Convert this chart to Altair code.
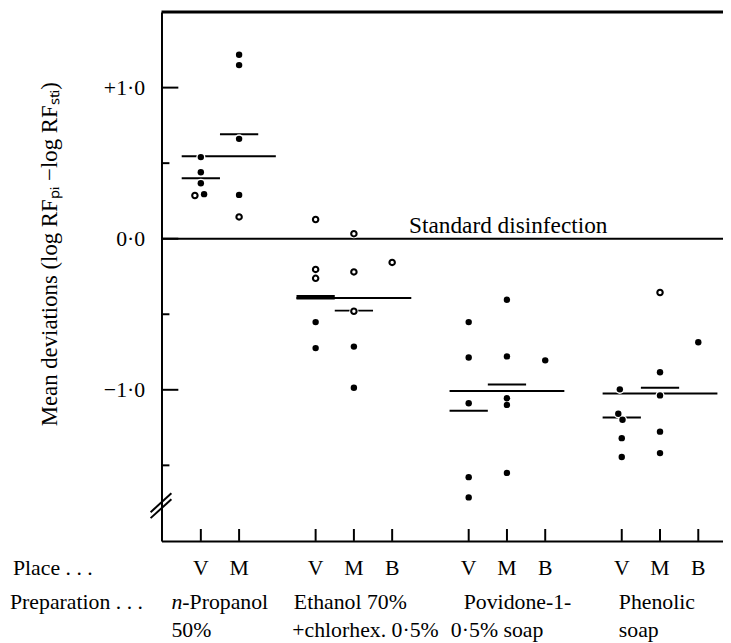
import altair as alt
import pandas as pd

# ---------------- data ----------------
prep_first_line = ["-Propanol", "Ethanol 70%", "Povidone-1-", "Phenolic"]
prep_second_line = ["50%", "+chlorhex. 0·5%", "0·5% soap", "soap"]
prep_places = [["V", "M"], ["V", "M", "B"], ["V", "M", "B"], ["V", "M", "B"]]

# individual results
pt_prep = [0] * 10 + [1] * 11 + [2] * 11 + [3] * 11
pt_place = (["V"] * 5 + ["M"] * 5
            + ["V"] * 5 + ["M"] * 5 + ["B"]
            + ["V"] * 5 + ["M"] * 5 + ["B"]
            + ["V"] * 5 + ["M"] * 5 + ["B"])
pt_value = [0.54, 0.44, 0.367, 0.295, 0.286,
            1.218, 1.149, 0.661, 0.29, 0.144,
            0.127, -0.203, -0.262, -0.552, -0.724,
            0.033, -0.22, -0.48, -0.714, -0.986,
            -0.157,
            -0.552, -0.786, -1.089, -1.578, -1.712,
            -0.404, -0.779, -1.056, -1.10, -1.55,
            -0.805,
            -0.997, -1.159, -1.198, -1.32, -1.445,
            -0.356, -0.884, -1.037, -1.277, -1.419,
            -0.685]
pt_open = [False, False, False, False, True,
           False, False, False, False, True,
           True, True, True, False, False,
           True, True, True, False, False,
           True,
           False, False, False, False, False,
           False, False, False, False, False,
           False,
           False, False, False, False, False,
           True, False, False, False, False,
           False]
# small sideways displacement of some dots, in place-slot units
pt_jitter = [0, 0, 0, 0.085, -0.155,
             0, 0, 0, 0, 0,
             0, 0, 0, 0, 0,
             0, 0, 0, 0, 0,
             0,
             0, 0, 0, 0, 0,
             0, 0, 0, 0, 0,
             0,
             -0.05, -0.09, 0.02, 0, 0,
             0, 0, 0, 0, 0,
             0]

# means per place
pm_prep = [0, 0, 1, 1, 2, 2, 3, 3]
pm_place = ["V", "M", "V", "M", "V", "M", "V", "M"]
pm_value = [0.40, 0.692, -0.388, -0.476, -1.139, -0.965, -1.183, -0.986]
pm_bold = [False, False, True, False, False, False, False, False]

# means per preparation
gm_value = [0.546, -0.393, -1.008, -1.024]

y_major = [1.0, 0.0, -1.0]
y_minor = [0.5, -0.5, -1.5]

# ---------------- layout ----------------
FONT = "Liberation Serif"
FS = 22
W, H = 567, 534
SLOT_PX = 38.64
X_DOM = [-1.028, 13.646]
Y_DOM = [-2.0, 1.5]
group_right_ext = [0.96, 0.5, 0.5, 0.5]
line1_dx = [-29.7 + 11, -22, -5, -3]
line2_dx = [-29.7, -23.6, -18, -3]
italic_dx = -29.7

slot_of = {}
first_slot = []
s = 0
for gi, pl in enumerate(prep_places):
    first_slot.append(s)
    for j, p in enumerate(pl):
        slot_of[(gi, p)] = s + j
    s += len(pl) + 1

xs = alt.Scale(domain=X_DOM, nice=False, zero=False)
ys = alt.Scale(domain=Y_DOM, nice=False, zero=False)

AX_X = alt.Axis(labels=False, ticks=False, grid=False, title=None,
                domainColor="black", domainWidth=2)
AX_Y = alt.Axis(
    values=y_major, ticks=False, grid=False, domainColor="black", domainWidth=2,
    labelExpr="(datum.value > 0 ? '+' : datum.value < 0 ? '\u2212' : '') + replace(format(abs(datum.value), '.1f'), '.', '\u00b7')",
    labelFont=FONT, labelFontSize=FS, labelColor="black", labelPadding=17,
    title="Mean deviations (log RF\u209a\u1d62 \u2212log RF\u209b\u209c\u1d62)",
    titleFont=FONT, titleFontSize=23, titleFontWeight="normal", titleColor="black",
    titleX=-113, titleY=244, titleAngle=270, titleAlign="center", titleBaseline="middle")


def X(f):
    return alt.X(f, type="quantitative", scale=xs, axis=AX_X)


def Y(f):
    return alt.Y(f, type="quantitative", scale=ys, axis=AX_Y)


pts = pd.DataFrame({
    "x": [slot_of[(g, p)] + j for g, p, j in zip(pt_prep, pt_place, pt_jitter)],
    "y": pt_value,
    "open": pt_open,
})
pm = pd.DataFrame({
    "x": [slot_of[(g, p)] - 0.5 for g, p in zip(pm_prep, pm_place)],
    "x2": [slot_of[(g, p)] + 0.5 for g, p in zip(pm_prep, pm_place)],
    "y": pm_value,
    "bold": pm_bold,
})
gm = pd.DataFrame({
    "x": [first_slot[g] - 0.5 for g in range(len(gm_value))],
    "x2": [first_slot[g] + len(prep_places[g]) - 1 + group_right_ext[g] for g in range(len(gm_value))],
    "y": gm_value,
})
place_lab = pd.DataFrame({
    "x": [slot_of[(g, p)] for g, pl in enumerate(prep_places) for p in pl],
    "t": [p for pl in prep_places for p in pl],
})
l1 = pd.DataFrame({"x": [first_slot[g] + line1_dx[g] / SLOT_PX for g in range(4)], "t": prep_first_line})
l2 = pd.DataFrame({"x": [first_slot[g] + line2_dx[g] / SLOT_PX for g in range(4)], "t": prep_second_line})

axes = alt.Chart(pd.DataFrame({"x": [0.0], "y": [0.0]})).mark_point(opacity=0).encode(
    x=X("x"), y=Y("y"))

top_line = alt.Chart(pd.DataFrame({"y": [Y_DOM[1]]})).mark_rule(color="black", strokeWidth=3).encode(
    y=Y("y"))
std_line = alt.Chart(pd.DataFrame({"y": [0.0]})).mark_rule(color="black", strokeWidth=2).encode(
    y=Y("y"))
std_text = alt.Chart(pd.DataFrame({"y": [0.0], "t": ["Standard disinfection"]})).mark_text(
    font=FONT, fontSize=23.5, align="left", baseline="alphabetic", dy=-6, color="black").encode(
    x=alt.value(250), y=Y("y"), text="t:N")

ymaj = alt.Chart(pd.DataFrame({"y": y_major})).mark_rule(color="black", strokeWidth=2).encode(
    x=alt.value(0), x2=alt.value(17), y=Y("y"))
ymin = alt.Chart(pd.DataFrame({"y": y_minor})).mark_rule(color="black", strokeWidth=2).encode(
    x=alt.value(0), x2=alt.value(8), y=Y("y"))
xt = alt.Chart(place_lab).mark_rule(color="black", strokeWidth=2).encode(
    x=X("x"), y=alt.value(H), y2=alt.value(H - 12))

brk1 = alt.Chart(pd.DataFrame({"a": [0]})).mark_rule(color="black", strokeWidth=2).encode(
    x=alt.value(-11), x2=alt.value(10), y=alt.value(505), y2=alt.value(486))
brk2 = alt.Chart(pd.DataFrame({"a": [0]})).mark_rule(color="black", strokeWidth=2).encode(
    x=alt.value(-11), x2=alt.value(10), y=alt.value(511), y2=alt.value(492))

gm_lines = alt.Chart(gm).mark_rule(color="black", strokeWidth=2).encode(
    x=X("x"), x2="x2:Q", y=Y("y"))
pm_lines = alt.Chart(pm).mark_rule(color="black").encode(
    x=X("x"), x2="x2:Q", y=Y("y"),
    strokeWidth=alt.condition("datum.bold", alt.value(4.5), alt.value(2)))

halo = alt.Chart(pts).mark_point(shape="circle", filled=True, color="white", size=85, opacity=1).encode(
    x=X("x"), y=Y("y"))
filled = alt.Chart(pts).transform_filter("!datum.open").mark_point(
    shape="circle", filled=True, color="black", size=42, opacity=1).encode(
    x=X("x"), y=Y("y"))
opened = alt.Chart(pts).transform_filter("datum.open").mark_point(
    shape="circle", filled=False, stroke="black", fill="white", fillOpacity=1, strokeWidth=2.1,
    size=30, opacity=1).encode(
    x=X("x"), y=Y("y"))

txt = dict(font=FONT, fontSize=FS, color="black", baseline="middle")
place_head = alt.Chart(pd.DataFrame({"t": ["Place . . ."]})).mark_text(align="left", **txt).encode(
    x=alt.value(-150), y=alt.value(561), text="t:N")
place_letters = alt.Chart(place_lab).mark_text(align="center", **txt).encode(
    x=X("x"), y=alt.value(561), text="t:N")
prep_head = alt.Chart(pd.DataFrame({"t": ["Preparation  .  .  ."]})).mark_text(align="left", **txt).encode(
    x=alt.value(-153), y=alt.value(596), text="t:N")
n_ital = alt.Chart(pd.DataFrame({"x": [first_slot[0] + italic_dx / SLOT_PX], "t": ["n"]})).mark_text(
    align="left", fontStyle="italic", **txt).encode(
    x=X("x"), y=alt.value(596), text="t:N")
prep1 = alt.Chart(l1).mark_text(align="left", **txt).encode(
    x=X("x"), y=alt.value(596), text="t:N")
prep2 = alt.Chart(l2).mark_text(align="left", **txt).encode(
    x=X("x"), y=alt.value(624), text="t:N")

chart = alt.layer(
    axes, top_line, std_line, std_text, ymaj, ymin, xt, brk1, brk2,
    gm_lines, pm_lines, halo, filled, opened,
    place_head, place_letters, prep_head, n_ital, prep1, prep2,
).properties(
    width=W, height=H,
    padding={"left": 155, "top": 1, "right": 0, "bottom": 100},
    autosize=alt.AutoSizeParams(type="none"),
    background="white",
).configure_view(stroke=None)

chart.save("out.html", embed_options={"renderer": "svg", "actions": False})
